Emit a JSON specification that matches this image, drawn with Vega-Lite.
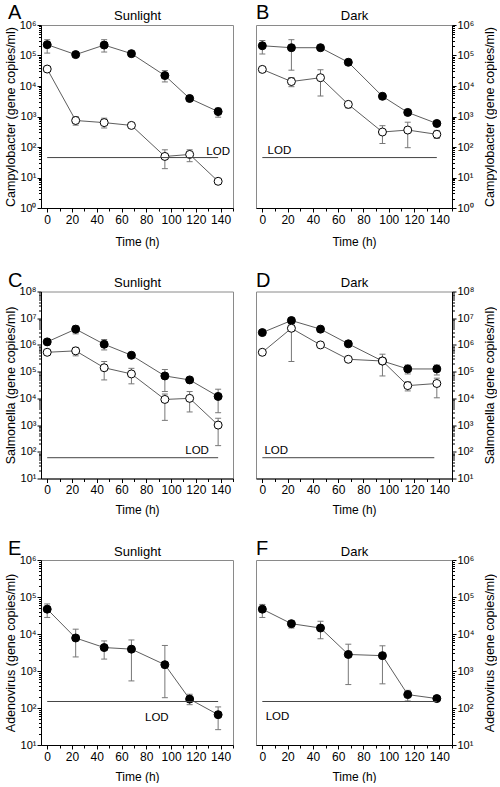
{
"$schema": "https://vega.github.io/schema/vega-lite/v6.json",
"padding": {"left": 3, "top": 2, "right": 0, "bottom": 0},
"background": "white",
"datasets": {
"A": [
{"time":0,"series":"Series 1","mean":227000,"lo":120000,"hi":330000},
{"time":23,"series":"Series 1","mean":107000},
{"time":46,"series":"Series 1","mean":220000,"lo":130000,"hi":330000},
{"time":68,"series":"Series 1","mean":115000},
{"time":95,"series":"Series 1","mean":22000,"lo":13600,"hi":32000},
{"time":115,"series":"Series 1","mean":3900},
{"time":138,"series":"Series 1","mean":1450,"lo":950,"hi":1900},
{"time":0,"series":"Series 2","mean":36000},
{"time":23,"series":"Series 2","mean":740,"lo":520,"hi":1000},
{"time":46,"series":"Series 2","mean":630,"lo":420,"hi":880},
{"time":68,"series":"Series 2","mean":510},
{"time":95,"series":"Series 2","mean":49,"lo":19.5,"hi":81},
{"time":115,"series":"Series 2","mean":57,"lo":33,"hi":81},
{"time":138,"series":"Series 2","mean":7.5}
],
"B": [
{"time":0,"series":"Series 1","mean":209000,"lo":112000,"hi":310000},
{"time":23,"series":"Series 1","mean":180000,"lo":33000,"hi":330000},
{"time":46,"series":"Series 1","mean":180000},
{"time":68,"series":"Series 1","mean":60000},
{"time":95,"series":"Series 1","mean":4600},
{"time":115,"series":"Series 1","mean":1360},
{"time":138,"series":"Series 1","mean":590},
{"time":0,"series":"Series 2","mean":35000},
{"time":23,"series":"Series 2","mean":14000,"lo":9500,"hi":19000},
{"time":46,"series":"Series 2","mean":18700,"lo":4700,"hi":34000},
{"time":68,"series":"Series 2","mean":2500,"lo":1900,"hi":3000},
{"time":95,"series":"Series 2","mean":310,"lo":130,"hi":500},
{"time":115,"series":"Series 2","mean":360,"lo":95,"hi":650},
{"time":138,"series":"Series 2","mean":260,"lo":190,"hi":350}
],
"C": [
{"time":0,"series":"Series 1","mean":1300000},
{"time":23,"series":"Series 1","mean":3900000,"lo":2600000,"hi":5200000},
{"time":46,"series":"Series 1","mean":1060000,"lo":650000,"hi":1600000},
{"time":68,"series":"Series 1","mean":410000},
{"time":95,"series":"Series 1","mean":69000,"lo":18000,"hi":120000},
{"time":115,"series":"Series 1","mean":49000},
{"time":138,"series":"Series 1","mean":11800,"lo":2900,"hi":22000},
{"time":0,"series":"Series 2","mean":530000},
{"time":23,"series":"Series 2","mean":600000,"lo":390000,"hi":810000},
{"time":46,"series":"Series 2","mean":140000,"lo":49000,"hi":240000},
{"time":68,"series":"Series 2","mean":82000,"lo":35000,"hi":133000},
{"time":95,"series":"Series 2","mean":9100,"lo":1500,"hi":14500},
{"time":115,"series":"Series 2","mean":10000,"lo":3100,"hi":18000},
{"time":138,"series":"Series 2","mean":1000,"lo":170,"hi":1800}
],
"D": [
{"time":0,"series":"Series 1","mean":2900000},
{"time":23,"series":"Series 1","mean":8200000},
{"time":46,"series":"Series 1","mean":3900000},
{"time":68,"series":"Series 1","mean":1100000},
{"time":95,"series":"Series 1","mean":250000,"lo":69000,"hi":450000},
{"time":115,"series":"Series 1","mean":126000,"lo":82000,"hi":178000},
{"time":138,"series":"Series 1","mean":126000,"lo":75000,"hi":178000},
{"time":0,"series":"Series 2","mean":530000},
{"time":23,"series":"Series 2","mean":4200000,"lo":240000,"hi":5500000},
{"time":46,"series":"Series 2","mean":1000000},
{"time":68,"series":"Series 2","mean":290000},
{"time":95,"series":"Series 2","mean":250000},
{"time":115,"series":"Series 2","mean":30000,"lo":19000,"hi":42000},
{"time":138,"series":"Series 2","mean":36000,"lo":10500,"hi":57000}
],
"E": [
{"time":0,"series":"Series 1","mean":47000,"lo":28000,"hi":65000},
{"time":23,"series":"Series 1","mean":7800,"lo":2400,"hi":13500},
{"time":46,"series":"Series 1","mean":4300,"lo":2100,"hi":6500},
{"time":68,"series":"Series 1","mean":3900,"lo":540,"hi":6900},
{"time":95,"series":"Series 1","mean":1480,"lo":190,"hi":4900},
{"time":115,"series":"Series 1","mean":174,"lo":123,"hi":235},
{"time":138,"series":"Series 1","mean":66,"lo":26,"hi":107}
],
"F": [
{"time":0,"series":"Series 1","mean":47000,"lo":28000,"hi":63000},
{"time":23,"series":"Series 1","mean":19000,"lo":14500,"hi":22000},
{"time":46,"series":"Series 1","mean":14500,"lo":7400,"hi":22000},
{"time":68,"series":"Series 1","mean":2800,"lo":430,"hi":5300},
{"time":95,"series":"Series 1","mean":2600,"lo":450,"hi":4800},
{"time":115,"series":"Series 1","mean":230,"lo":155,"hi":300},
{"time":138,"series":"Series 1","mean":180}
],
"lod": [
{"panel":"A","lod":45,"label":"LOD"},
{"panel":"B","lod":45,"label":"LOD"},
{"panel":"C","lod":60,"label":"LOD"},
{"panel":"D","lod":60,"label":"LOD"},
{"panel":"E","lod":150,"label":"LOD"},
{"panel":"F","lod":150,"label":"LOD"}
]
},
"spacing": 21.5,
"vconcat": [
{"hconcat": [
{
"width": 192, "height": 183,
"title": {"text": "A", "dx": 4},
"data": {"name": "A"},
"resolve": {"axis": {"x": "independent", "y": "independent"}},
"layer": [
{"mark": {"type": "line", "color": "#333", "strokeWidth": 0.8},
 "encoding": {
  "x": {"field": "time", "type": "quantitative", "scale": {"domain": [-5, 150], "nice": false, "zero": false},
        "axis": {"orient": "bottom", "values": [0,20,40,60,80,100,120,140], "tickSize": 4, "labelPadding": 2, "title": "Time (h)", "titleFontSize": 12, "titlePadding": 11}},
  "y": {"field": "mean", "type": "quantitative", "scale": {"type": "log", "domain": [1, 1000000], "nice": false},
        "axis": {"orient": "left", "values": [1,10,100,1000,10000,100000,1000000], "labelExpr": "'10' + ['⁰','¹','²','³','⁴','⁵','⁶','⁷','⁸'][round(log(datum.value)/LN10)]", "labelFontSize": 11, "tickSize": 4, "labelPadding": 1, "title": "Campylobacter (gene copies/ml)", "titlePadding": 2}},
  "detail": {"field": "series", "type": "nominal"}}},
{"mark": {"type": "rule", "color": "#777"},
 "encoding": {
  "x": {"field": "time", "type": "quantitative", "scale": {"domain": [-5, 150], "nice": false, "zero": false},
        "axis": {"orient": "bottom", "values": [10,30,50,70,90,110,130,150], "labels": false, "domain": false, "tickSize": 3, "title": null}},
  "y": {"field": "lo", "type": "quantitative", "scale": {"type": "log", "domain": [1, 1000000], "nice": false},
        "axis": {"orient": "left", "values": [2,3,4,5,6,7,8,9,20,30,40,50,60,70,80,90,200,300,400,500,600,700,800,900,2000,3000,4000,5000,6000,7000,8000,9000,2e4,3e4,4e4,5e4,6e4,7e4,8e4,9e4,2e5,3e5,4e5,5e5,6e5,7e5,8e5,9e5], "labels": false, "domain": false, "tickSize": 2.5, "title": null}},
  "y2": {"field": "hi"}}},
{"mark": {"type": "tick", "orient": "horizontal", "color": "#777", "size": 6, "thickness": 1, "opacity": 1},
 "encoding": {
  "x": {"field": "time", "type": "quantitative", "scale": {"domain": [-5, 150], "nice": false, "zero": false}, "axis": null},
  "y": {"field": "lo", "type": "quantitative", "scale": {"type": "log", "domain": [1, 1000000], "nice": false}, "axis": null}}},
{"mark": {"type": "tick", "orient": "horizontal", "color": "#777", "size": 6, "thickness": 1, "opacity": 1},
 "encoding": {
  "x": {"field": "time", "type": "quantitative", "scale": {"domain": [-5, 150], "nice": false, "zero": false}, "axis": null},
  "y": {"field": "hi", "type": "quantitative", "scale": {"type": "log", "domain": [1, 1000000], "nice": false}, "axis": null}}},
{"mark": {"type": "point", "shape": "circle", "filled": true, "size": 64, "stroke": "#000", "strokeWidth": 1, "opacity": 1},
 "encoding": {
  "x": {"field": "time", "type": "quantitative", "scale": {"domain": [-5, 150], "nice": false, "zero": false},
        "axis": {"orient": "top", "labels": false, "ticks": false, "domain": false, "title": "Sunlight", "titleFontSize": 13, "titlePadding": 3}},
  "y": {"field": "mean", "type": "quantitative", "scale": {"type": "log", "domain": [1, 1000000], "nice": false}, "axis": null},
  "fill": {"field": "series", "type": "nominal", "scale": {"domain": ["Series 1", "Series 2"], "range": ["#000000", "#ffffff"]}, "legend": null}}},
{"data": {"name": "lod"}, "transform": [{"filter": "datum.panel == 'A'"}],
 "mark": {"type": "rule", "color": "#444"},
 "encoding": {
  "x": {"datum": 0, "type": "quantitative", "scale": {"domain": [-5, 150], "nice": false, "zero": false}, "axis": null},
  "x2": {"datum": 138},
  "y": {"field": "lod", "type": "quantitative", "scale": {"type": "log", "domain": [1, 1000000], "nice": false}, "axis": null}}},
{"data": {"name": "lod"}, "transform": [{"filter": "datum.panel == 'A'"}],
 "mark": {"type": "text", "fontSize": 11.5, "baseline": "bottom", "dy": -1},
 "encoding": {
  "x": {"datum": 138, "type": "quantitative", "scale": {"domain": [-5, 150], "nice": false, "zero": false}, "axis": null},
  "y": {"field": "lod", "type": "quantitative", "scale": {"type": "log", "domain": [1, 1000000], "nice": false}, "axis": null},
  "text": {"field": "label"}}}
]
},
{
"width": 196, "height": 183,
"title": {"text": "B", "dx": 0},
"data": {"name": "B"},
"resolve": {"axis": {"x": "independent", "y": "independent"}},
"layer": [
{"mark": {"type": "line", "color": "#333", "strokeWidth": 0.8},
 "encoding": {
  "x": {"field": "time", "type": "quantitative", "scale": {"domain": [-5, 150], "nice": false, "zero": false},
        "axis": {"orient": "bottom", "values": [0,20,40,60,80,100,120,140], "tickSize": 4, "labelPadding": 2, "title": "Time (h)", "titleFontSize": 12, "titlePadding": 11}},
  "y": {"field": "mean", "type": "quantitative", "scale": {"type": "log", "domain": [1, 1000000], "nice": false},
        "axis": {"orient": "right", "values": [1,10,100,1000,10000,100000,1000000], "labelExpr": "'10' + ['⁰','¹','²','³','⁴','⁵','⁶','⁷','⁸'][round(log(datum.value)/LN10)]", "labelFontSize": 11, "tickSize": 4, "labelPadding": 1, "title": "Campylobacter (gene copies/ml)", "titleAngle": 270, "titleBaseline": "top", "titlePadding": 10}},
  "detail": {"field": "series", "type": "nominal"}}},
{"mark": {"type": "rule", "color": "#777"},
 "encoding": {
  "x": {"field": "time", "type": "quantitative", "scale": {"domain": [-5, 150], "nice": false, "zero": false},
        "axis": {"orient": "bottom", "values": [10,30,50,70,90,110,130,150], "labels": false, "domain": false, "tickSize": 3, "title": null}},
  "y": {"field": "lo", "type": "quantitative", "scale": {"type": "log", "domain": [1, 1000000], "nice": false},
        "axis": {"orient": "right", "values": [2,3,4,5,6,7,8,9,20,30,40,50,60,70,80,90,200,300,400,500,600,700,800,900,2000,3000,4000,5000,6000,7000,8000,9000,2e4,3e4,4e4,5e4,6e4,7e4,8e4,9e4,2e5,3e5,4e5,5e5,6e5,7e5,8e5,9e5], "labels": false, "domain": false, "tickSize": 2.5, "title": null}},
  "y2": {"field": "hi"}}},
{"mark": {"type": "tick", "orient": "horizontal", "color": "#777", "size": 6, "thickness": 1, "opacity": 1},
 "encoding": {
  "x": {"field": "time", "type": "quantitative", "scale": {"domain": [-5, 150], "nice": false, "zero": false}, "axis": null},
  "y": {"field": "lo", "type": "quantitative", "scale": {"type": "log", "domain": [1, 1000000], "nice": false}, "axis": null}}},
{"mark": {"type": "tick", "orient": "horizontal", "color": "#777", "size": 6, "thickness": 1, "opacity": 1},
 "encoding": {
  "x": {"field": "time", "type": "quantitative", "scale": {"domain": [-5, 150], "nice": false, "zero": false}, "axis": null},
  "y": {"field": "hi", "type": "quantitative", "scale": {"type": "log", "domain": [1, 1000000], "nice": false}, "axis": null}}},
{"mark": {"type": "point", "shape": "circle", "filled": true, "size": 64, "stroke": "#000", "strokeWidth": 1, "opacity": 1},
 "encoding": {
  "x": {"field": "time", "type": "quantitative", "scale": {"domain": [-5, 150], "nice": false, "zero": false},
        "axis": {"orient": "top", "labels": false, "ticks": false, "domain": false, "title": "Dark", "titleFontSize": 13, "titlePadding": 3}},
  "y": {"field": "mean", "type": "quantitative", "scale": {"type": "log", "domain": [1, 1000000], "nice": false}, "axis": null},
  "fill": {"field": "series", "type": "nominal", "scale": {"domain": ["Series 1", "Series 2"], "range": ["#000000", "#ffffff"]}, "legend": null}}},
{"data": {"name": "lod"}, "transform": [{"filter": "datum.panel == 'B'"}],
 "mark": {"type": "rule", "color": "#444"},
 "encoding": {
  "x": {"datum": 0, "type": "quantitative", "scale": {"domain": [-5, 150], "nice": false, "zero": false}, "axis": null},
  "x2": {"datum": 138},
  "y": {"field": "lod", "type": "quantitative", "scale": {"type": "log", "domain": [1, 1000000], "nice": false}, "axis": null}}},
{"data": {"name": "lod"}, "transform": [{"filter": "datum.panel == 'B'"}],
 "mark": {"type": "text", "fontSize": 11.5, "baseline": "bottom", "dy": -2},
 "encoding": {
  "x": {"datum": 13.5, "type": "quantitative", "scale": {"domain": [-5, 150], "nice": false, "zero": false}, "axis": null},
  "y": {"field": "lod", "type": "quantitative", "scale": {"type": "log", "domain": [1, 1000000], "nice": false}, "axis": null},
  "text": {"field": "label"}}}
]
}
], "spacing": 21},
{"hconcat": [
{
"width": 192, "height": 187,
"title": {"text": "C", "dx": 4},
"data": {"name": "C"},
"resolve": {"axis": {"x": "independent", "y": "independent"}},
"layer": [
{"mark": {"type": "line", "color": "#333", "strokeWidth": 0.8},
 "encoding": {
  "x": {"field": "time", "type": "quantitative", "scale": {"domain": [-5, 150], "nice": false, "zero": false},
        "axis": {"orient": "bottom", "values": [0,20,40,60,80,100,120,140], "tickSize": 4, "labelPadding": 2, "title": "Time (h)", "titleFontSize": 12, "titlePadding": 9}},
  "y": {"field": "mean", "type": "quantitative", "scale": {"type": "log", "domain": [10, 100000000], "nice": false},
        "axis": {"orient": "left", "values": [10,100,1000,10000,100000,1000000,10000000,100000000], "labelExpr": "'10' + ['⁰','¹','²','³','⁴','⁵','⁶','⁷','⁸'][round(log(datum.value)/LN10)]", "labelFontSize": 11, "tickSize": 4, "labelPadding": 1, "title": "Salmonella (gene copies/ml)", "titlePadding": 2}},
  "detail": {"field": "series", "type": "nominal"}}},
{"mark": {"type": "rule", "color": "#777"},
 "encoding": {
  "x": {"field": "time", "type": "quantitative", "scale": {"domain": [-5, 150], "nice": false, "zero": false},
        "axis": {"orient": "bottom", "values": [10,30,50,70,90,110,130,150], "labels": false, "domain": false, "tickSize": 3, "title": null}},
  "y": {"field": "lo", "type": "quantitative", "scale": {"type": "log", "domain": [10, 100000000], "nice": false},
        "axis": {"orient": "left", "values": [20,30,40,50,60,70,80,90,200,300,400,500,600,700,800,900,2000,3000,4000,5000,6000,7000,8000,9000,2e4,3e4,4e4,5e4,6e4,7e4,8e4,9e4,2e5,3e5,4e5,5e5,6e5,7e5,8e5,9e5,2e6,3e6,4e6,5e6,6e6,7e6,8e6,9e6,2e7,3e7,4e7,5e7,6e7,7e7,8e7,9e7], "labels": false, "domain": false, "tickSize": 2.5, "title": null}},
  "y2": {"field": "hi"}}},
{"mark": {"type": "tick", "orient": "horizontal", "color": "#777", "size": 6, "thickness": 1, "opacity": 1},
 "encoding": {
  "x": {"field": "time", "type": "quantitative", "scale": {"domain": [-5, 150], "nice": false, "zero": false}, "axis": null},
  "y": {"field": "lo", "type": "quantitative", "scale": {"type": "log", "domain": [10, 100000000], "nice": false}, "axis": null}}},
{"mark": {"type": "tick", "orient": "horizontal", "color": "#777", "size": 6, "thickness": 1, "opacity": 1},
 "encoding": {
  "x": {"field": "time", "type": "quantitative", "scale": {"domain": [-5, 150], "nice": false, "zero": false}, "axis": null},
  "y": {"field": "hi", "type": "quantitative", "scale": {"type": "log", "domain": [10, 100000000], "nice": false}, "axis": null}}},
{"mark": {"type": "point", "shape": "circle", "filled": true, "size": 64, "stroke": "#000", "strokeWidth": 1, "opacity": 1},
 "encoding": {
  "x": {"field": "time", "type": "quantitative", "scale": {"domain": [-5, 150], "nice": false, "zero": false},
        "axis": {"orient": "top", "labels": false, "ticks": false, "domain": false, "title": "Sunlight", "titleFontSize": 13, "titlePadding": 2}},
  "y": {"field": "mean", "type": "quantitative", "scale": {"type": "log", "domain": [10, 100000000], "nice": false}, "axis": null},
  "fill": {"field": "series", "type": "nominal", "scale": {"domain": ["Series 1", "Series 2"], "range": ["#000000", "#ffffff"]}, "legend": null}}},
{"data": {"name": "lod"}, "transform": [{"filter": "datum.panel == 'C'"}],
 "mark": {"type": "rule", "color": "#444"},
 "encoding": {
  "x": {"datum": 0, "type": "quantitative", "scale": {"domain": [-5, 150], "nice": false, "zero": false}, "axis": null},
  "x2": {"datum": 138},
  "y": {"field": "lod", "type": "quantitative", "scale": {"type": "log", "domain": [10, 100000000], "nice": false}, "axis": null}}},
{"data": {"name": "lod"}, "transform": [{"filter": "datum.panel == 'C'"}],
 "mark": {"type": "text", "fontSize": 11.5, "baseline": "bottom", "dy": -2},
 "encoding": {
  "x": {"datum": 121, "type": "quantitative", "scale": {"domain": [-5, 150], "nice": false, "zero": false}, "axis": null},
  "y": {"field": "lod", "type": "quantitative", "scale": {"type": "log", "domain": [10, 100000000], "nice": false}, "axis": null},
  "text": {"field": "label"}}}
]
},
{
"width": 196, "height": 187,
"title": {"text": "D", "dx": 0},
"data": {"name": "D"},
"resolve": {"axis": {"x": "independent", "y": "independent"}},
"layer": [
{"mark": {"type": "line", "color": "#333", "strokeWidth": 0.8},
 "encoding": {
  "x": {"field": "time", "type": "quantitative", "scale": {"domain": [-5, 150], "nice": false, "zero": false},
        "axis": {"orient": "bottom", "values": [0,20,40,60,80,100,120,140], "tickSize": 4, "labelPadding": 2, "title": "Time (h)", "titleFontSize": 12, "titlePadding": 9}},
  "y": {"field": "mean", "type": "quantitative", "scale": {"type": "log", "domain": [10, 100000000], "nice": false},
        "axis": {"orient": "right", "values": [10,100,1000,10000,100000,1000000,10000000,100000000], "labelExpr": "'10' + ['⁰','¹','²','³','⁴','⁵','⁶','⁷','⁸'][round(log(datum.value)/LN10)]", "labelFontSize": 11, "tickSize": 4, "labelPadding": 1, "title": "Salmonella (gene copies/ml)", "titleAngle": 270, "titleBaseline": "top", "titlePadding": 10}},
  "detail": {"field": "series", "type": "nominal"}}},
{"mark": {"type": "rule", "color": "#777"},
 "encoding": {
  "x": {"field": "time", "type": "quantitative", "scale": {"domain": [-5, 150], "nice": false, "zero": false},
        "axis": {"orient": "bottom", "values": [10,30,50,70,90,110,130,150], "labels": false, "domain": false, "tickSize": 3, "title": null}},
  "y": {"field": "lo", "type": "quantitative", "scale": {"type": "log", "domain": [10, 100000000], "nice": false},
        "axis": {"orient": "right", "values": [20,30,40,50,60,70,80,90,200,300,400,500,600,700,800,900,2000,3000,4000,5000,6000,7000,8000,9000,2e4,3e4,4e4,5e4,6e4,7e4,8e4,9e4,2e5,3e5,4e5,5e5,6e5,7e5,8e5,9e5,2e6,3e6,4e6,5e6,6e6,7e6,8e6,9e6,2e7,3e7,4e7,5e7,6e7,7e7,8e7,9e7], "labels": false, "domain": false, "tickSize": 2.5, "title": null}},
  "y2": {"field": "hi"}}},
{"mark": {"type": "tick", "orient": "horizontal", "color": "#777", "size": 6, "thickness": 1, "opacity": 1},
 "encoding": {
  "x": {"field": "time", "type": "quantitative", "scale": {"domain": [-5, 150], "nice": false, "zero": false}, "axis": null},
  "y": {"field": "lo", "type": "quantitative", "scale": {"type": "log", "domain": [10, 100000000], "nice": false}, "axis": null}}},
{"mark": {"type": "tick", "orient": "horizontal", "color": "#777", "size": 6, "thickness": 1, "opacity": 1},
 "encoding": {
  "x": {"field": "time", "type": "quantitative", "scale": {"domain": [-5, 150], "nice": false, "zero": false}, "axis": null},
  "y": {"field": "hi", "type": "quantitative", "scale": {"type": "log", "domain": [10, 100000000], "nice": false}, "axis": null}}},
{"mark": {"type": "point", "shape": "circle", "filled": true, "size": 64, "stroke": "#000", "strokeWidth": 1, "opacity": 1},
 "encoding": {
  "x": {"field": "time", "type": "quantitative", "scale": {"domain": [-5, 150], "nice": false, "zero": false},
        "axis": {"orient": "top", "labels": false, "ticks": false, "domain": false, "title": "Dark", "titleFontSize": 13, "titlePadding": 2}},
  "y": {"field": "mean", "type": "quantitative", "scale": {"type": "log", "domain": [10, 100000000], "nice": false}, "axis": null},
  "fill": {"field": "series", "type": "nominal", "scale": {"domain": ["Series 1", "Series 2"], "range": ["#000000", "#ffffff"]}, "legend": null}}},
{"data": {"name": "lod"}, "transform": [{"filter": "datum.panel == 'D'"}],
 "mark": {"type": "rule", "color": "#444"},
 "encoding": {
  "x": {"datum": 0, "type": "quantitative", "scale": {"domain": [-5, 150], "nice": false, "zero": false}, "axis": null},
  "x2": {"datum": 136},
  "y": {"field": "lod", "type": "quantitative", "scale": {"type": "log", "domain": [10, 100000000], "nice": false}, "axis": null}}},
{"data": {"name": "lod"}, "transform": [{"filter": "datum.panel == 'D'"}],
 "mark": {"type": "text", "fontSize": 11.5, "baseline": "bottom", "dy": -2},
 "encoding": {
  "x": {"datum": 11, "type": "quantitative", "scale": {"domain": [-5, 150], "nice": false, "zero": false}, "axis": null},
  "y": {"field": "lod", "type": "quantitative", "scale": {"type": "log", "domain": [10, 100000000], "nice": false}, "axis": null},
  "text": {"field": "label"}}}
]
}
], "spacing": 21},
{"hconcat": [
{
"width": 192, "height": 185,
"title": {"text": "E", "dx": 4},
"data": {"name": "E"},
"resolve": {"axis": {"x": "independent", "y": "independent"}},
"layer": [
{"mark": {"type": "line", "color": "#333", "strokeWidth": 0.8},
 "encoding": {
  "x": {"field": "time", "type": "quantitative", "scale": {"domain": [-5, 150], "nice": false, "zero": false},
        "axis": {"orient": "bottom", "values": [0,20,40,60,80,100,120,140], "tickSize": 4, "labelPadding": 2, "title": "Time (h)", "titleFontSize": 12, "titlePadding": 9}},
  "y": {"field": "mean", "type": "quantitative", "scale": {"type": "log", "domain": [10, 1000000], "nice": false},
        "axis": {"orient": "left", "values": [10,100,1000,10000,100000,1000000], "labelExpr": "'10' + ['⁰','¹','²','³','⁴','⁵','⁶','⁷','⁸'][round(log(datum.value)/LN10)]", "labelFontSize": 11, "tickSize": 4, "labelPadding": 1, "title": "Adenovirus (gene copies/ml)", "titlePadding": 2}},
  "detail": {"field": "series", "type": "nominal"}}},
{"mark": {"type": "rule", "color": "#777"},
 "encoding": {
  "x": {"field": "time", "type": "quantitative", "scale": {"domain": [-5, 150], "nice": false, "zero": false},
        "axis": {"orient": "bottom", "values": [10,30,50,70,90,110,130,150], "labels": false, "domain": false, "tickSize": 3, "title": null}},
  "y": {"field": "lo", "type": "quantitative", "scale": {"type": "log", "domain": [10, 1000000], "nice": false},
        "axis": {"orient": "left", "values": [20,30,40,50,60,70,80,90,200,300,400,500,600,700,800,900,2000,3000,4000,5000,6000,7000,8000,9000,2e4,3e4,4e4,5e4,6e4,7e4,8e4,9e4,2e5,3e5,4e5,5e5,6e5,7e5,8e5,9e5], "labels": false, "domain": false, "tickSize": 2.5, "title": null}},
  "y2": {"field": "hi"}}},
{"mark": {"type": "tick", "orient": "horizontal", "color": "#777", "size": 6, "thickness": 1, "opacity": 1},
 "encoding": {
  "x": {"field": "time", "type": "quantitative", "scale": {"domain": [-5, 150], "nice": false, "zero": false}, "axis": null},
  "y": {"field": "lo", "type": "quantitative", "scale": {"type": "log", "domain": [10, 1000000], "nice": false}, "axis": null}}},
{"mark": {"type": "tick", "orient": "horizontal", "color": "#777", "size": 6, "thickness": 1, "opacity": 1},
 "encoding": {
  "x": {"field": "time", "type": "quantitative", "scale": {"domain": [-5, 150], "nice": false, "zero": false}, "axis": null},
  "y": {"field": "hi", "type": "quantitative", "scale": {"type": "log", "domain": [10, 1000000], "nice": false}, "axis": null}}},
{"mark": {"type": "point", "shape": "circle", "filled": true, "size": 64, "stroke": "#000", "strokeWidth": 1, "opacity": 1},
 "encoding": {
  "x": {"field": "time", "type": "quantitative", "scale": {"domain": [-5, 150], "nice": false, "zero": false},
        "axis": {"orient": "top", "labels": false, "ticks": false, "domain": false, "title": "Sunlight", "titleFontSize": 13, "titlePadding": 2}},
  "y": {"field": "mean", "type": "quantitative", "scale": {"type": "log", "domain": [10, 1000000], "nice": false}, "axis": null},
  "fill": {"field": "series", "type": "nominal", "scale": {"domain": ["Series 1", "Series 2"], "range": ["#000000", "#ffffff"]}, "legend": null}}},
{"data": {"name": "lod"}, "transform": [{"filter": "datum.panel == 'E'"}],
 "mark": {"type": "rule", "color": "#444"},
 "encoding": {
  "x": {"datum": 0, "type": "quantitative", "scale": {"domain": [-5, 150], "nice": false, "zero": false}, "axis": null},
  "x2": {"datum": 138},
  "y": {"field": "lod", "type": "quantitative", "scale": {"type": "log", "domain": [10, 1000000], "nice": false}, "axis": null}}},
{"data": {"name": "lod"}, "transform": [{"filter": "datum.panel == 'E'"}],
 "mark": {"type": "text", "fontSize": 11.5, "baseline": "top", "dy": 11},
 "encoding": {
  "x": {"datum": 88.5, "type": "quantitative", "scale": {"domain": [-5, 150], "nice": false, "zero": false}, "axis": null},
  "y": {"field": "lod", "type": "quantitative", "scale": {"type": "log", "domain": [10, 1000000], "nice": false}, "axis": null},
  "text": {"field": "label"}}}
]
},
{
"width": 196, "height": 185,
"title": {"text": "F", "dx": 0},
"data": {"name": "F"},
"resolve": {"axis": {"x": "independent", "y": "independent"}},
"layer": [
{"mark": {"type": "line", "color": "#333", "strokeWidth": 0.8},
 "encoding": {
  "x": {"field": "time", "type": "quantitative", "scale": {"domain": [-5, 150], "nice": false, "zero": false},
        "axis": {"orient": "bottom", "values": [0,20,40,60,80,100,120,140], "tickSize": 4, "labelPadding": 2, "title": "Time (h)", "titleFontSize": 12, "titlePadding": 9}},
  "y": {"field": "mean", "type": "quantitative", "scale": {"type": "log", "domain": [10, 1000000], "nice": false},
        "axis": {"orient": "right", "values": [10,100,1000,10000,100000,1000000], "labelExpr": "'10' + ['⁰','¹','²','³','⁴','⁵','⁶','⁷','⁸'][round(log(datum.value)/LN10)]", "labelFontSize": 11, "tickSize": 4, "labelPadding": 1, "title": "Adenovirus (gene copies/ml)", "titleAngle": 270, "titleBaseline": "top", "titlePadding": 10}},
  "detail": {"field": "series", "type": "nominal"}}},
{"mark": {"type": "rule", "color": "#777"},
 "encoding": {
  "x": {"field": "time", "type": "quantitative", "scale": {"domain": [-5, 150], "nice": false, "zero": false},
        "axis": {"orient": "bottom", "values": [10,30,50,70,90,110,130,150], "labels": false, "domain": false, "tickSize": 3, "title": null}},
  "y": {"field": "lo", "type": "quantitative", "scale": {"type": "log", "domain": [10, 1000000], "nice": false},
        "axis": {"orient": "right", "values": [20,30,40,50,60,70,80,90,200,300,400,500,600,700,800,900,2000,3000,4000,5000,6000,7000,8000,9000,2e4,3e4,4e4,5e4,6e4,7e4,8e4,9e4,2e5,3e5,4e5,5e5,6e5,7e5,8e5,9e5], "labels": false, "domain": false, "tickSize": 2.5, "title": null}},
  "y2": {"field": "hi"}}},
{"mark": {"type": "tick", "orient": "horizontal", "color": "#777", "size": 6, "thickness": 1, "opacity": 1},
 "encoding": {
  "x": {"field": "time", "type": "quantitative", "scale": {"domain": [-5, 150], "nice": false, "zero": false}, "axis": null},
  "y": {"field": "lo", "type": "quantitative", "scale": {"type": "log", "domain": [10, 1000000], "nice": false}, "axis": null}}},
{"mark": {"type": "tick", "orient": "horizontal", "color": "#777", "size": 6, "thickness": 1, "opacity": 1},
 "encoding": {
  "x": {"field": "time", "type": "quantitative", "scale": {"domain": [-5, 150], "nice": false, "zero": false}, "axis": null},
  "y": {"field": "hi", "type": "quantitative", "scale": {"type": "log", "domain": [10, 1000000], "nice": false}, "axis": null}}},
{"mark": {"type": "point", "shape": "circle", "filled": true, "size": 64, "stroke": "#000", "strokeWidth": 1, "opacity": 1},
 "encoding": {
  "x": {"field": "time", "type": "quantitative", "scale": {"domain": [-5, 150], "nice": false, "zero": false},
        "axis": {"orient": "top", "labels": false, "ticks": false, "domain": false, "title": "Dark", "titleFontSize": 13, "titlePadding": 2}},
  "y": {"field": "mean", "type": "quantitative", "scale": {"type": "log", "domain": [10, 1000000], "nice": false}, "axis": null},
  "fill": {"field": "series", "type": "nominal", "scale": {"domain": ["Series 1", "Series 2"], "range": ["#000000", "#ffffff"]}, "legend": null}}},
{"data": {"name": "lod"}, "transform": [{"filter": "datum.panel == 'F'"}],
 "mark": {"type": "rule", "color": "#444"},
 "encoding": {
  "x": {"datum": 0, "type": "quantitative", "scale": {"domain": [-5, 150], "nice": false, "zero": false}, "axis": null},
  "x2": {"datum": 138},
  "y": {"field": "lod", "type": "quantitative", "scale": {"type": "log", "domain": [10, 1000000], "nice": false}, "axis": null}}},
{"data": {"name": "lod"}, "transform": [{"filter": "datum.panel == 'F'"}],
 "mark": {"type": "text", "fontSize": 11.5, "baseline": "top", "dy": 10},
 "encoding": {
  "x": {"datum": 12, "type": "quantitative", "scale": {"domain": [-5, 150], "nice": false, "zero": false}, "axis": null},
  "y": {"field": "lod", "type": "quantitative", "scale": {"type": "log", "domain": [10, 1000000], "nice": false}, "axis": null},
  "text": {"field": "label"}}}
]
}
], "spacing": 21}
],
"config": {
 "font": "Liberation Sans",
 "view": {"stroke": "#8a8a8a", "strokeWidth": 1},
 "axis": {"grid": false, "domainColor": "#000", "domainWidth": 1, "tickColor": "#000", "tickWidth": 1, "labelColor": "#000", "titleColor": "#000", "labelFont": "Liberation Sans", "titleFont": "Liberation Sans", "titleFontWeight": "normal", "labelFontSize": 12, "titleFontSize": 12.5, "labelFlush": false, "labelOverlap": false},
 "title": {"font": "Liberation Sans", "fontWeight": "normal", "fontSize": 20, "color": "#000", "anchor": "start", "frame": "bounds", "offset": -14},
 "text": {"font": "Liberation Sans", "color": "#000"}
}
}
